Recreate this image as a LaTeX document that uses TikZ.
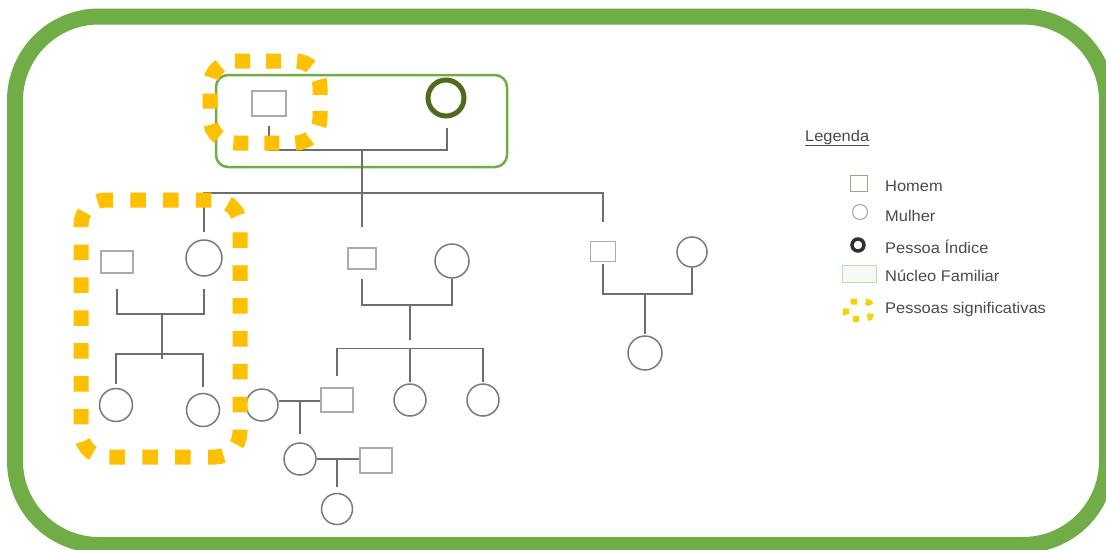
\documentclass[tikz,border=0pt]{standalone}
\usepackage{fontspec}
\setmainfont{Liberation Sans}
\newfontfamily\legendfont[FakeStretch=1.06]{Liberation Sans}
\definecolor{framegreen}{HTML}{70AD47}
\definecolor{markorange}{HTML}{FFC000}
\definecolor{legyellow}{HTML}{F2D500}
\definecolor{linegray}{HTML}{6E6E6E}
\definecolor{ringgray}{HTML}{7A7A7A}
\definecolor{boxgray}{HTML}{ABABAB}
\definecolor{indexgreen}{HTML}{4F6A1C}
\definecolor{textgray}{HTML}{4A4A4A}
\begin{document}
\begin{tikzpicture}[x=1pt,y=-1pt,
  conn/.style={draw=linegray, line width=1.5pt},
  man/.style={draw=boxgray, line width=1.5pt, rectangle, inner sep=0pt,
    minimum width=#1},
  man/.default=32pt,
  woman/.style={draw=ringgray, line width=1.5pt, circle, inner sep=0pt,
    minimum size=#1},
  woman/.default=32pt,
  indexp/.style={draw=indexgreen, line width=5pt, circle, inner sep=0pt,
    minimum size=36pt},
  signif/.style={draw=markorange, line width=15pt, rounded corners=25pt},
  nucleus/.style={draw=framegreen, line width=2.5pt, rounded corners=12pt},
  legtext/.style={font=\legendfont\fontsize{15.5}{18}\selectfont, text=textgray,
    anchor=west, inner sep=0pt}]
\useasboundingbox (0,0) rectangle (1106,549);
\fill[white] (0,0) rectangle (1106,549);

% outer frame
\draw[framegreen, line width=16pt, rounded corners=84pt]
  (15,16.5) rectangle (1107,545);

% family nucleus of the index person
\draw[nucleus] (216,75) rectangle (507,167);

% ---- generation 1
\node[man, minimum height=25pt, minimum width=34pt] (gf) at (269,103.5) {};
\node[indexp] (gm) at (446,98) {};
\coordinate (g1) at (362,150);
\draw[conn] ([yshift=-9pt]gf.south) |- (g1) -| ([yshift=-9pt,xshift=1pt]gm.south);

% ---- generation 2
\node[man, minimum height=22pt] (a1) at (117,262) {};
\node[woman=36pt] (a2) at (204,258) {};
\node[man=28pt, minimum height=21pt] (b1) at (362,258.5) {};
\node[woman=34pt] (b2) at (452,261) {};
\node[man=25pt, minimum height=20pt] (c1) at (603,251.5) {};
\node[woman=30pt] (c2) at (692,252) {};

\coordinate (s1) at (362,193);
\draw[conn] (g1) -- ([yshift=20pt]b1.north);
\draw[conn] ([yshift=7pt]a2.north) |- (s1) -| ([yshift=18.5pt]c1.north);

% couple A and their daughters
\node[woman=33pt] (a3) at (116,405) {};
\node[woman=33pt] (a4) at (203,410) {};
\coordinate (ja) at (162,314);
\coordinate (ka) at (162,354);
\draw[conn] ([yshift=-15pt]a1.south) |- (ja) -| ([yshift=-12pt]a2.south);
\draw[conn] (ja) -- ([yshift=-5pt]ka);
\draw[conn] ([yshift=4pt]a3.north) |- (ka) -| ([yshift=6pt]a4.north);

% couple B and their children
\node[man, minimum height=24pt] (b3) at (337,400) {};
\node[woman] (b4) at (410,400) {};
\node[woman] (b5) at (483,400) {};
\coordinate (jb) at (410,305);
\coordinate (kb) at (410,348.5);
\draw[conn] ([yshift=-9pt]b1.south) |- (jb) -| (b2.south);
\draw[conn] (jb) -- ([yshift=8.5pt]kb);
\draw[conn] ([yshift=11pt]b3.north) |- (kb) -| ([yshift=1pt]b5.north);
\draw[conn] (kb) -- ([yshift=1pt]b4.north);

% couple C and their daughter
\node[woman=34pt] (c3) at (645,353) {};
\coordinate (jc) at (645,294);
\draw[conn] ([yshift=-1.5pt]c1.south) |- (jc) -| (c2.south);
\draw[conn] (jc) -- ([yshift=1pt]c3.north);

% descendants of B3
\node[woman] (bs) at (262,405) {};
\node[woman] (d1) at (300,459) {};
\node[man, minimum height=25pt] (ds) at (376,460.5) {};
\node[woman=31pt] (e1) at (337,509) {};
\coordinate (jd) at (300,401);
\coordinate (je) at (337,459);
\draw[conn] (bs.east |- jd) -- (b3.west |- jd);
\draw[conn] (jd) -- ([yshift=8pt]d1.north);
\draw[conn] (d1.east) -- (ds.west |- d1.east);
\draw[conn] (je) -- ([yshift=5.5pt]e1.north);

% significant persons: each loop starts and ends mid-edge so the
% dash period divides its length evenly
\draw[signif, dash pattern=on 15.5pt off 17.38pt]
  (163,200) -- (240,200) -- (240,457) -- (81,457) -- (81,200) -- (163,200);
\draw[signif, dash pattern=on 15pt off 16.007pt]
  (235,61) -- (320,61) -- (320,143) -- (210,143) -- (210,61) -- (235,61);

% ---- legend
\node[legtext] (lt) at (805,138) {\underline{Legenda}};
\node[draw=boxgray!80!olive, line width=1pt, minimum width=17pt, minimum height=16pt,
  inner sep=0pt] (lm) at (859,183.5) {};
\node[legtext] (lmt) at (885,186) {Homem};
\node[draw=ringgray!60, line width=1.2pt, circle, minimum size=15pt, inner sep=0pt]
  (lw) at (860,212) {};
\node[legtext] (lwt) at (885,216) {Mulher};
\node[draw=black!85!olive, line width=3.5pt, circle, minimum size=12pt, inner sep=0pt]
  (li) at (858,245) {};
\node[legtext] (lit) at (885,247) {Pessoa Índice};
\node[draw=framegreen!45, fill=framegreen!6, line width=1.2pt, minimum width=34pt,
  minimum height=17pt, inner sep=0pt] (ln) at (859.5,274) {};
\node[legtext] (lnt) at (885,276) {Núcleo Familiar};
\draw[legyellow, line width=6pt, rounded corners=5pt, dash pattern=on 6pt off 9pt]
  (846,301.5) -- (871,301.5) -- (871,319) -- (846,319) -- cycle;
\node[legtext] (lst) at (885,309) {Pessoas significativas};
\end{tikzpicture}
\end{document}
